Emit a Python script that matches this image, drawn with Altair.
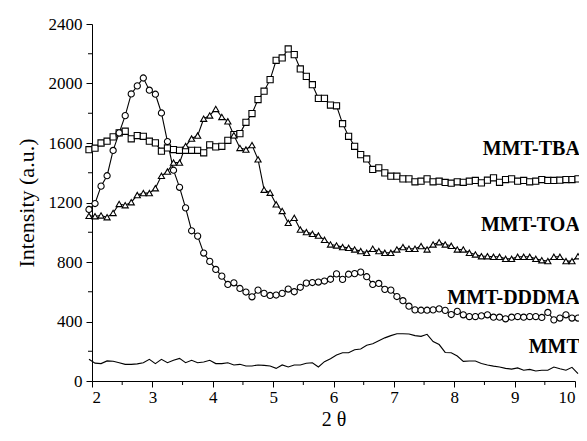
import altair as alt
import pandas as pd

# 2-theta positions of the recorded points
two_theta = [
    1.95, 2.05, 2.15, 2.25, 2.35, 2.45, 2.55, 2.65, 2.75, 2.85,
    2.95, 3.05, 3.15, 3.25, 3.35, 3.45, 3.55, 3.65, 3.75, 3.85,
    3.95, 4.05, 4.15, 4.25, 4.35, 4.45, 4.55, 4.65, 4.75, 4.85,
    4.95, 5.05, 5.15, 5.25, 5.35, 5.45, 5.55, 5.65, 5.75, 5.85,
    5.95, 6.05, 6.15, 6.25, 6.35, 6.45, 6.55, 6.65, 6.75, 6.85,
    6.95, 7.05, 7.15, 7.25, 7.35, 7.45, 7.55, 7.65, 7.75, 7.85,
    7.95, 8.05, 8.15, 8.25, 8.35, 8.45, 8.55, 8.65, 8.75, 8.85,
    8.95, 9.05, 9.15, 9.25, 9.35, 9.45, 9.55, 9.65, 9.75, 9.85,
    9.95, 10.05,
]

mmt_tba = [
    1555, 1565, 1600, 1612, 1641, 1668, 1679, 1628, 1650, 1645,
    1612, 1601, 1545, 1567, 1556, 1551, 1551, 1551, 1551, 1534,
    1588, 1574, 1578, 1618, 1657, 1663, 1739, 1798, 1892, 1948,
    2026, 2156, 2172, 2232, 2194, 2098, 2048, 1992, 1900, 1900,
    1855, 1850, 1730, 1645, 1578, 1522, 1493, 1422, 1433, 1399,
    1377, 1377, 1359, 1359, 1339, 1343, 1359, 1339, 1343, 1335,
    1330, 1339, 1336, 1343, 1348, 1332, 1350, 1366, 1336, 1354,
    1359, 1343, 1348, 1339, 1343, 1354, 1348, 1348, 1350, 1354,
    1354, 1359,
]

mmt_toa = [
    1110, 1108, 1113, 1101, 1130, 1190, 1182, 1202, 1250, 1263,
    1263, 1296, 1379, 1408, 1468, 1468, 1579, 1630, 1650, 1763,
    1785, 1829, 1775, 1746, 1652, 1567, 1556, 1586, 1490, 1286,
    1266, 1188, 1143, 1063, 1097, 1018, 1001, 989, 978, 949,
    918, 911, 900, 895, 884, 873, 862, 889, 873, 862,
    862, 884, 900, 889, 889, 907, 884, 918, 933, 918,
    909, 884, 884, 862, 851, 839, 839, 835, 835, 821,
    821, 835, 835, 835, 821, 812, 806, 835, 835, 806,
    806, 839,
]

mmt_dddma = [
    1153, 1193, 1310, 1380, 1550, 1668, 1784, 1930, 1984, 2037,
    1955, 1928, 1802, 1610, 1417, 1302, 1164, 1010, 974, 860,
    804, 750, 705, 649, 660, 622, 598, 566, 611, 589,
    575, 578, 589, 618, 600, 630, 658, 662, 665, 672,
    684, 720, 683, 718, 722, 732, 701, 649, 656, 616,
    611, 568, 540, 503, 478, 476, 476, 478, 485, 475,
    447, 468, 445, 433, 433, 438, 445, 429, 429, 418,
    429, 433, 429, 433, 433, 427, 461, 411, 423, 445,
    423, 423,
]

mmt = [
    146, 120, 117, 135, 133, 123, 112, 112, 115, 123,
    146, 117, 146, 123, 139, 152, 123, 139, 123, 128,
    139, 117, 117, 123, 108, 112, 101, 101, 108, 105,
    101, 85, 108, 94, 108, 108, 119, 123, 94, 130,
    150, 175, 190, 190, 210, 215, 240, 250, 270, 290,
    305, 318, 318, 316, 305, 300, 314, 265, 245, 192,
    190, 168, 132, 134, 134, 118, 108, 100, 94, 85,
    80, 88, 72, 78, 67, 72, 72, 94, 82, 72,
    92, 50,
]

series_names = ["MMT-TBA", "MMT-TOA", "MMT-DDDMA", "MMT"]
series_values = [mmt_tba, mmt_toa, mmt_dddma, mmt]
marker_shapes = ["square", "triangle-up", "circle"]

x_ticks = [2, 3, 4, 5, 6, 7, 8, 9, 10]
x_minor = [2.5, 3.5, 4.5, 5.5, 6.5, 7.5, 8.5, 9.5]
y_ticks = [0, 400, 800, 1200, 1600, 2000, 2400]
y_minor = [200, 600, 1000, 1400, 1800, 2200]

label_texts = ["MMT-TBA", "MMT-TOA", "MMT-DDDMA", "MMT"]
label_y = [1563, 1052, 555, 226]

for v in series_values:
    assert len(v) == len(two_theta)

rows = []
for name, vals in zip(series_names, series_values):
    for xv, yv in zip(two_theta, vals):
        rows.append({"series": name, "x": xv, "y": yv})
df = pd.DataFrame(rows)

labels_df = pd.DataFrame({"label": label_texts, "ly": label_y, "lx": [10.08] * len(label_texts)})
xminor_df = pd.DataFrame({"v": x_minor})
yminor_df = pd.DataFrame({"v": y_minor})

W, H = 483, 357
FONT = "Liberation Serif, Times New Roman, serif"

xscale = alt.Scale(domain=[2, 10], nice=False, zero=False)
yscale = alt.Scale(domain=[0, 2400], nice=False)

x_enc = alt.X("x:Q", scale=xscale,
              axis=alt.Axis(values=x_ticks, title="2 θ", format="d",
                            tickSize=6, labelPadding=2, titlePadding=4,
                            titleFontSize=20))
y_enc = alt.Y("y:Q", scale=yscale,
              axis=alt.Axis(values=y_ticks, title="Intensity (a.u.)", format="d",
                            tickSize=6, labelPadding=4, titlePadding=10))

base = alt.Chart(df)

lines = base.mark_line(color="black", strokeWidth=1.1).encode(
    x=x_enc, y=y_enc, detail="series:N"
)

points = base.transform_filter("datum.series != 'MMT'").mark_point(
    filled=True, fill="white", stroke="black", strokeWidth=1.1, size=38, opacity=1
).encode(
    x=x_enc, y=y_enc,
    shape=alt.Shape("series:N",
                    scale=alt.Scale(domain=series_names[:3], range=marker_shapes),
                    legend=None),
)

labels = alt.Chart(labels_df).mark_text(
    align="right", baseline="middle", font=FONT, fontWeight="bold",
    fontSize=20, color="black"
).encode(x=alt.X("lx:Q", scale=xscale), y=alt.Y("ly:Q", scale=yscale), text="label:N")

xminor_ticks = alt.Chart(xminor_df).mark_rule(color="black", strokeWidth=1).encode(
    x=alt.X("v:Q", scale=xscale), y=alt.value(H), y2=alt.value(H + 4)
)
yminor_ticks = alt.Chart(yminor_df).mark_rule(color="black", strokeWidth=1).encode(
    y=alt.Y("v:Q", scale=yscale), x=alt.value(0), x2=alt.value(-4)
)

chart = alt.layer(lines, points, labels, xminor_ticks, yminor_ticks).properties(
    width=W, height=H,
    autosize=alt.AutoSizeParams(type="none"),
    padding={"left": 84, "top": 16, "right": 4, "bottom": 52},
).configure_view(stroke=None).configure_axis(
    grid=False,
    domainColor="black", domainWidth=1,
    tickColor="black", tickWidth=1,
    labelFont=FONT, labelFontSize=17, labelColor="black",
    titleFont=FONT, titleFontSize=22, titleFontWeight="normal", titleColor="black",
)

chart.save("out.html", embed_options={"renderer": "svg", "actions": False})
